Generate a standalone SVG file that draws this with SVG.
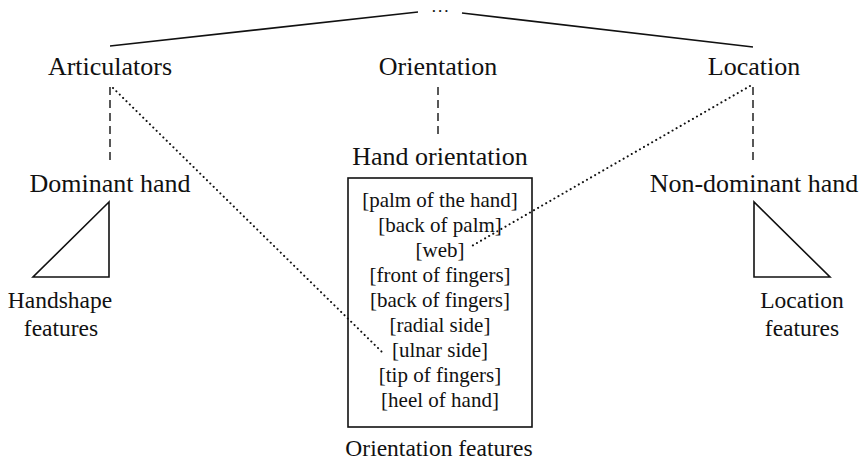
<svg xmlns="http://www.w3.org/2000/svg" width="862" height="461" viewBox="0 0 862 461">
<style>
text{font-family:"Liberation Serif","Times New Roman",Times,serif;fill:#111;text-anchor:middle}
.lbl{font-size:26px}
.item{font-size:21px}
.feat{font-size:23.5px}
.dots{font-size:13px;font-weight:bold;letter-spacing:3px}
.solid{stroke:#111;stroke-width:1.6;fill:none}
.dash{stroke:#222;stroke-width:1.5;stroke-dasharray:8 5;fill:none}
.dot{stroke:#111;stroke-width:2;stroke-linecap:round;stroke-dasharray:0.1 4.6;fill:none}
</style>
<rect width="862" height="461" fill="#fff"/>
<g id="connectors">
<line class="solid" x1="110" y1="46" x2="418" y2="12"/>
<line class="solid" x1="462" y1="13" x2="753" y2="47"/>
<line class="dash" x1="110" y1="87" x2="110" y2="164"/>
<line class="dash" x1="438" y1="87" x2="438" y2="136"/>
<line class="dash" x1="753" y1="87" x2="753" y2="164"/>
<line class="dot" x1="113" y1="88" x2="382" y2="352"/>
<line class="dot" x1="750" y1="86" x2="470" y2="247"/>
</g>
<g id="root"><text class="dots" x="441.5" y="12">...</text></g>
<g id="articulators"><text class="lbl" x="110" y="75">Articulators</text></g>
<g id="orientation"><text class="lbl" x="438" y="75">Orientation</text></g>
<g id="location"><text class="lbl" x="754" y="75">Location</text></g>
<g id="dominant-hand">
<text class="lbl" x="110" y="192">Dominant hand</text>
<polygon class="solid" points="109,202 33,277 109,277"/>
<text class="feat" x="60" y="308">Handshape</text>
<text class="feat" x="61" y="336">features</text>
</g>
<g id="non-dominant-hand">
<text class="lbl" x="754" y="192">Non-dominant hand</text>
<polygon class="solid" points="754,202 754,277 830,277"/>
<text class="feat" x="802" y="308">Location</text>
<text class="feat" x="802" y="336">features</text>
</g>
<g id="hand-orientation">
<text class="lbl" x="440" y="165">Hand orientation</text>
<rect class="solid" x="348" y="178" width="184" height="249"/>
<text class="item" x="440" y="207">[palm of the hand]</text>
<text class="item" x="440" y="232">[back of palm]</text>
<text class="item" x="440" y="257">[web]</text>
<text class="item" x="440" y="282">[front of fingers]</text>
<text class="item" x="440" y="307">[back of fingers]</text>
<text class="item" x="440" y="332">[radial side]</text>
<text class="item" x="440" y="357">[ulnar side]</text>
<text class="item" x="440" y="382">[tip of fingers]</text>
<text class="item" x="440" y="407">[heel of hand]</text>
<text class="feat" x="439" y="456">Orientation features</text>
</g>
</svg>
